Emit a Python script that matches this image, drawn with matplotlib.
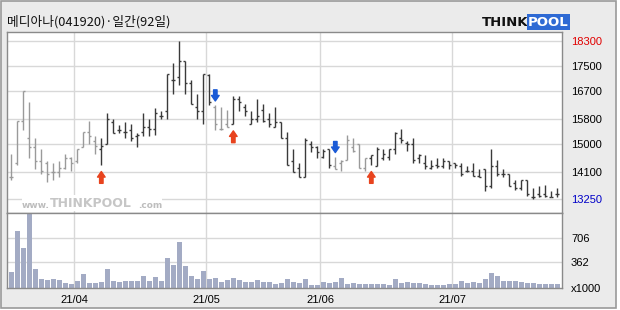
import matplotlib
matplotlib.use('Agg')
import matplotlib.pyplot as plt
from matplotlib.patches import Rectangle

# daily bars, 92 trading days (2021-03-17 .. 2021-07-26)
highs = [14700, 15750, 16700, 16350, 15200, 14850, 14450, 14400, 14450, 14700,
         14600, 14850, 15400, 15750, 15250, 15200, 16000, 15800, 15600, 15700,
         15650, 15350, 16000, 15800, 16150, 16050, 17250, 17600, 18300, 17650,
         17050, 16600, 17250, 17250, 16250, 16200, 16100, 16550, 16550, 16300,
         16050, 16450, 16300, 16000, 16200, 15700, 15400, 14850, 14400, 15200,
         15100, 14950, 14850, 14850, 14600, 14500, 15300, 15200, 15000, 14550,
         14650, 14900, 14850, 14850, 15400, 15500, 15100, 15200, 14700, 14650,
         14500, 14550, 14550, 14450, 14400, 14400, 14300, 14400, 14200, 14200,
         14850, 14500, 14200, 14050, 13850, 13850, 13850, 13600, 13650, 13700,
         13500, 13600]
lows = [13850, 14350, 15450, 14550, 14200, 14050, 13800, 13850, 13950, 14200,
        14150, 14400, 14900, 15000, 14700, 14350, 15000, 15350, 15350, 15200,
        15100, 14900, 15250, 15250, 15300, 15800, 15800, 16600, 16900, 16600,
        16300, 15800, 15650, 16250, 15450, 15450, 15550, 15650, 16050, 15900,
        15650, 15700, 15700, 15550, 15550, 15200, 14350, 14100, 13950, 13950,
        14750, 14550, 14550, 14250, 14200, 14150, 14500, 14750, 14250, 14150,
        14350, 14300, 14500, 14500, 14700, 15050, 14800, 14400, 14400, 14200,
        14200, 14250, 14250, 14200, 14250, 14000, 14100, 14000, 13950, 13500,
        13600, 14000, 13950, 13650, 13550, 13550, 13350, 13250, 13300, 13300,
        13300, 13300]
opens = [13950, 14400, 15750, 15200, 14900, 14450, 14400, 14100, 14100, 14250,
         14550, 14450, 14900, 15400, 15100, 14850, 15000, 15700, 15450, 15400,
         15450, 15250, 15400, 15550, 15500, 15900, 16050, 17050, 17150, 17650,
         16950, 16200, 16050, 17200, 16200, 15500, 15650, 15650, 16450, 16200,
         15650, 15800, 16100, 15800, 15550, 15700, 15200, 14450, 14250, 13950,
         15000, 14900, 14600, 14850, 14300, 14400, 14500, 14900, 15000, 14250,
         14550, 14300, 14550, 14600, 14850, 15200, 15050, 15000, 14550, 14400,
         14250, 14350, 14300, 14450, 14400, 14300, 14150, 14150, 14000, 14200,
         13650, 14300, 14050, 14050, 13750, 13600, 13850, 13300, 13400, 13400,
         13300, 13400]
closes = [13950, 15750, 16700, 14900, 14450, 14150, 14050, 14100, 14250, 14550,
          14400, 14850, 15400, 15250, 14950, 14950, 15800, 15350, 15450, 15400,
          15200, 15300, 15550, 15500, 16000, 15900, 17250, 17050, 17650, 16950,
          16300, 16050, 17250, 16350, 15650, 15500, 15550, 16450, 16350, 16050,
          15800, 15900, 15750, 15650, 15700, 15200, 14350, 14100, 13950, 15150,
          14900, 14750, 14800, 14350, 14200, 14450, 15150, 14800, 14250, 14550,
          14650, 14850, 14700, 14850, 15350, 15150, 15000, 14500, 14650, 14300,
          14300, 14300, 14450, 14350, 14350, 14050, 14150, 14000, 13950, 13650,
          14300, 14050, 14050, 13650, 13600, 13850, 13400, 13300, 13350, 13350,
          13300, 13400]
# volume in thousands of shares
volumes = [228, 808, 570, 1050, 266, 124, 114, 119, 109, 62,
           48, 95, 195, 71, 66, 81, 266, 95, 86, 95,
           95, 95, 166, 100, 152, 95, 423, 323, 651, 309,
           166, 124, 238, 128, 133, 81, 114, 133, 109, 81,
           81, 109, 81, 81, 57, 66, 124, 81, 62, 124,
           38, 38, 86, 71, 81, 143, 48, 71, 57, 57,
           57, 57, 57, 38, 128, 66, 86, 66, 71, 57,
           43, 43, 43, 57, 57, 100, 66, 81, 71, 128,
           214, 171, 95, 100, 90, 81, 71, 66, 57, 57,
           57, 48]

buy_idx = [15, 37, 60]
sell_idx = [34, 54]
price_levels = [18300, 17500, 16700, 15800, 15000, 14100, 13250]
vol_levels = [362, 706]
month_labels = ['21/04', '21/05', '21/06', '21/07']
month_start = [11, 33, 52, 74]

W, H = 620, 310
fig = plt.figure(figsize=(W / 100, H / 100), dpi=100, facecolor='white')
fig.patches.append(Rectangle((1 / W, 2 / H), 615 / W, 307 / H, transform=fig.transFigure,
                             facecolor='#ebebeb', edgecolor='#9a9a9a', lw=1.2, zorder=-10))


def px_axes(left, top, right, bottom):
    return fig.add_axes([left / W, 1 - bottom / H, (right - left) / W, (bottom - top) / H])


def px_text(x, y, s, **kw):
    return fig.text(x / W, 1 - y / H, s, **kw)


ax = px_axes(7.3, 32, 562.3, 212.7)
axv = px_axes(7.3, 212.7, 562.3, 287.7)

n = len(closes)
xmin, xmax = -0.67, 91.83
grid_c = '#d8d8d8'
for a in (ax, axv):
    a.set_facecolor('white')
    a.set_xlim(xmin, xmax)
    for s in a.spines.values():
        s.set_color('#8a8a8a')
        s.set_linewidth(1.0)
    for m in month_start:
        a.axvline(m - 0.5, color=grid_c, lw=1.0, zorder=0)

# price panel
ax.set_ylim(12812, 18588)
for lv in price_levels:
    ax.axhline(lv, color=grid_c, lw=1.0, zorder=0)

# bars turn grey after a sell signal until the next buy signal
colors = []
active = False
for i in range(n):
    if i in buy_idx:
        active = True
    if i in sell_idx:
        active = False
    colors.append('#3a3a3a' if active else '#9a9a9a')

tick = 0.36
for i in range(n):
    c = colors[i]
    ax.vlines(i, lows[i], highs[i], color=c, lw=1.0, zorder=3)
    ax.hlines(opens[i], i - tick, i, color=c, lw=1.0, zorder=3)
    ax.hlines(closes[i], i, i + tick, color=c, lw=1.0, zorder=3)

for i in buy_idx:
    ax.annotate('', xy=(i, lows[i]), xytext=(0, -13.5), textcoords='offset points',
                arrowprops=dict(arrowstyle='simple,head_width=0.55,head_length=0.4,tail_width=0.25',
                                color='#e8431e', shrinkA=0, shrinkB=5))
for i in sell_idx:
    ax.annotate('', xy=(i, highs[i]), xytext=(0, 11), textcoords='offset points',
                arrowprops=dict(arrowstyle='simple,head_width=0.55,head_length=0.4,tail_width=0.25',
                                color='#1a5ad6', shrinkA=0, shrinkB=3))

ax.yaxis.tick_right()
ax.set_yticks(price_levels)
ax.set_yticklabels([str(v) for v in price_levels], fontsize=8, family='Liberation Sans')
ax.tick_params(axis='y', length=0, pad=6.3)
ax.tick_params(axis='x', length=0, labelbottom=False)
ylabels = ax.get_yticklabels()
ylabels[0].set_color('#e00000')
ylabels[-1].set_color('#0000c8')

# watermark
ax.add_patch(Rectangle((22 / W, 1 - 211 / H), 140 / W, 16 / H, transform=fig.transFigure,
                       facecolor='white', edgecolor='none', zorder=1))
px_text(22, 205, 'www.', fontsize=6.5, color='#bdbdbd', fontweight='bold', va='center', ha='left')
px_text(50, 203.5, 'THINKPOOL', fontsize=9, color='#c6c6c6', fontweight='bold',
        va='center', ha='left', family='DejaVu Sans')
px_text(138, 205, '.com', fontsize=6.5, color='#bdbdbd', fontweight='bold', va='center', ha='left')

# volume panel
axv.set_ylim(0, 1069)
for lv in vol_levels:
    axv.axhline(lv, color=grid_c, lw=1.0, zorder=0)
axv.bar(range(n), volumes, width=0.78, color='#a3abc4', zorder=2)
axv.yaxis.tick_right()
axv.set_yticks([0] + vol_levels)
axv.set_yticklabels(['x1000'] + [str(v) for v in vol_levels], fontsize=8, family='Liberation Sans')
axv.tick_params(axis='y', length=0, pad=6.3)
axv.set_xticks([m - 0.5 for m in month_start])
axv.set_xticklabels(month_labels, fontsize=8, family='Liberation Sans')
axv.tick_params(axis='x', length=0, pad=5)

# title and logo
px_text(7, 22, '메디아나(041920)·일간(92일)', fontsize=9.2,
        family=['Noto Sans CJK KR', 'DejaVu Sans'], va='center', ha='left', color='#111111')
px_text(482, 22, 'THINK', fontsize=9.5, fontweight='heavy', family='DejaVu Sans',
        va='center', ha='left', color='#111111')
px_text(528, 22, 'POOL', fontsize=9.5, fontweight='bold', family='DejaVu Sans',
        va='center', ha='left', color='white',
        bbox=dict(boxstyle='square,pad=0.1', facecolor='#2e6ad4', edgecolor='none'))

fig.savefig('out.png', dpi=100, facecolor=fig.get_facecolor())
